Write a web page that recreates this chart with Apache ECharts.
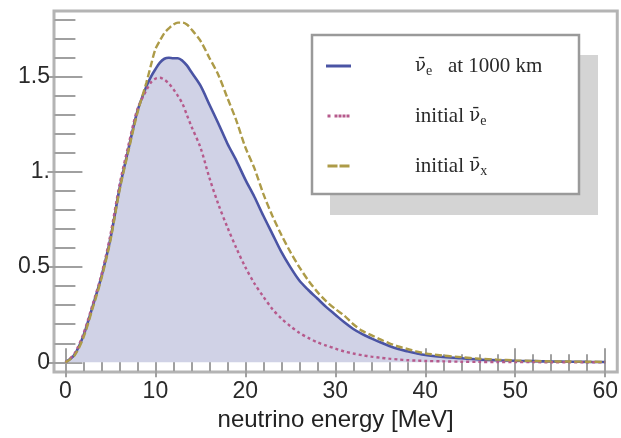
<!DOCTYPE html>
<html>
<head>
<meta charset="utf-8">
<script src="https://cdn.jsdelivr.net/npm/echarts@6/dist/echarts.min.js"></script>
<style>
  html, body { margin: 0; padding: 0; background: #fff; }
  #chart { width: 621px; height: 438px; }
</style>
</head>
<body>
<div id="chart"></div>
<script>
// Neutrino energy spectra (MeV)
const energy = [0, 1, 2, 3, 4, 5, 6, 7, 8, 9,
  9.5, 10, 10.5, 11, 11.5, 12, 12.5, 13, 13.5,
  14, 15, 16, 17, 18, 19, 20, 21, 22, 23, 24, 25, 26, 27, 28, 29, 30,
  31, 32, 33, 34, 35, 36, 37, 38, 39, 40,
  42, 44, 46, 48, 50, 52, 54, 56, 58, 60];

// anti-nu_e spectrum after 1000 km
const atDistance = [0, 0.04, 0.14, 0.29, 0.45, 0.65, 0.91, 1.12, 1.32, 1.45,
  1.50, 1.54, 1.575, 1.595, 1.60, 1.598, 1.598, 1.585, 1.56,
  1.525, 1.455, 1.355, 1.255, 1.15, 1.06, 0.96, 0.87, 0.77, 0.675, 0.58, 0.50, 0.43, 0.38, 0.335, 0.29, 0.25,
  0.21, 0.175, 0.148, 0.126, 0.105, 0.086, 0.07, 0.058, 0.047, 0.038,
  0.028, 0.021, 0.015, 0.011, 0.008, 0.006, 0.004, 0.003, 0.002, 0.0015];

// initial anti-nu_e spectrum
const initialE = [0, 0.045, 0.15, 0.30, 0.46, 0.67, 0.93, 1.14, 1.33, 1.43,
  1.47, 1.49, 1.495, 1.485, 1.465, 1.435, 1.40, 1.36, 1.30,
  1.24, 1.13, 0.97, 0.83, 0.71, 0.60, 0.50, 0.415, 0.345, 0.28, 0.23, 0.19, 0.155, 0.128, 0.105, 0.088, 0.072,
  0.057, 0.046, 0.037, 0.030, 0.024, 0.019, 0.015, 0.011, 0.009, 0.007,
  0.005, 0.003, 0.002, 0.0015, 0.001, 0.0007, 0.0005, 0.0003, 0.0002, 0.0001];

// initial anti-nu_x spectrum
const initialX = [0, 0.035, 0.13, 0.28, 0.44, 0.64, 0.90, 1.11, 1.31, 1.47,
  1.56, 1.645, 1.69, 1.73, 1.755, 1.775, 1.785, 1.785, 1.775,
  1.75, 1.69, 1.60, 1.51, 1.39, 1.27, 1.13, 1.02, 0.885, 0.77, 0.67, 0.58, 0.50, 0.43, 0.37, 0.32, 0.28,
  0.245, 0.20, 0.165, 0.143, 0.12, 0.10, 0.083, 0.07, 0.057, 0.047,
  0.035, 0.027, 0.019, 0.014, 0.010, 0.007, 0.005, 0.004, 0.003, 0.002];

const xMajor = [0, 10, 20, 30, 40, 50, 60];
const xMinor = [2, 4, 6, 8, 12, 14, 16, 18, 22, 24, 26, 28, 32, 34, 36, 38, 42, 44, 46, 48, 52, 54, 56, 58];
const yMajor = [0, 0.5, 1, 1.5];
const yMinor = [0.1, 0.2, 0.3, 0.4, 0.6, 0.7, 0.8, 0.9, 1.1, 1.2, 1.3, 1.4, 1.6, 1.7, 1.8];

const legendNames = ['atDistance', 'initialE', 'initialX'];
const legendText = {
  atDistance: '{v|ν\u0304}{s|e}{n|   at 1000 km}',
  initialE: '{n|initial }{v|ν\u0304}{s|e}',
  initialX: '{n|initial }{v|ν\u0304}{s|x}'
};
// legend swatches: solid, dotted and dashed strokes
const legendIcons = {
  atDistance: 'path://M0,0H25V3H0Z',
  initialE: 'path://M0,0h3v3h-3zM7,0h3v3h-3zM11,0h3v3h-3zM15,0h3v3h-3zM19,0h3v3h-3z',
  initialX: 'path://M0,0h10v3h-10zM12,0h10v3h-10z'
};

const pairs = ys => energy.map((e, i) => [e, ys[i]]);

const X_MIN = -1.27, X_MAX = 61.34;
const Y_MIN = -0.051, Y_MAX = 1.846;
const tickColor = '#a0a0a0';
const labelFont = { fontFamily: 'Liberation Sans', fontSize: 23, color: '#2a2a2a' };

function xAxisDef(position, values, len, labels) {
  return {
    type: 'value', min: X_MIN, max: X_MAX, position: position,
    axisLine: { show: false }, splitLine: { show: false },
    axisTick: { show: true, inside: true, length: len, customValues: values,
      lineStyle: { color: tickColor, width: 2 } },
    axisLabel: labels ? Object.assign({ show: true, customValues: xMajor, margin: 8 }, labelFont)
                      : { show: false }
  };
}
function yAxisDef(position, values, len, labels) {
  return {
    type: 'value', min: Y_MIN, max: Y_MAX, position: position,
    axisLine: { show: false }, splitLine: { show: false },
    axisTick: { show: true, inside: true, length: len, customValues: values,
      lineStyle: { color: tickColor, width: 2 } },
    axisLabel: labels ? Object.assign({ show: true, customValues: yMajor, margin: 4,
                        formatter: v => (v === 1 ? '1.' : String(v)) }, labelFont)
                      : { show: false }
  };
}

const xAxes = [
  xAxisDef('bottom', xMajor, 14, true),
  xAxisDef('bottom', xMinor, 8, false),
  xAxisDef('top', xMajor, 15, false),
  xAxisDef('top', xMinor, 9, false)
];
Object.assign(xAxes[0], {
  name: 'neutrino energy [MeV]', nameLocation: 'middle', nameGap: 29,
  nameTextStyle: { fontFamily: 'Liberation Sans', fontSize: 24, color: '#222' }
});
const yAxes = [
  yAxisDef('left', yMajor, 17, true),
  yAxisDef('left', yMinor, 10, false),
  yAxisDef('right', yMajor, 18, false),
  yAxisDef('right', yMinor, 11, false)
];

const chart = echarts.init(document.getElementById('chart'), null, { renderer: 'canvas' });
chart.setOption({
  backgroundColor: '#ffffff',
  animation: false,
  grid: { left: 54, right: 1, top: 11, bottom: 66, show: true,
          borderColor: '#b4b4b4', borderWidth: 3, backgroundColor: 'transparent' },
  xAxis: xAxes,
  yAxis: yAxes,
  graphic: [
    { type: 'rect', z: 3, shape: { x: 330, y: 55, width: 268, height: 160 },
      style: { fill: '#d4d4d4' } },
    { type: 'rect', z: 3, shape: { x: 312, y: 35, width: 267, height: 159 },
      style: { fill: '#ffffff', stroke: '#9a9a9a', lineWidth: 2.5 } }
  ],
  legend: {
    data: legendNames.map(n => ({ name: n, icon: legendIcons[n] })),
    orient: 'vertical', left: 326, top: 54, z: 5,
    padding: 0, itemWidth: 25, itemHeight: 3, itemGap: 26,
    itemStyle: { borderWidth: 0 },
    lineStyle: { width: 0 },
    formatter: name => legendText[name],
    textStyle: {
      padding: [0, 0, 0, 59],
      lineHeight: 24,
      rich: {
        n: { fontFamily: 'Liberation Serif', fontSize: 21, color: '#2a2a2a', lineHeight: 24 },
        v: { fontFamily: 'DejaVu Serif', fontSize: 18, color: '#2a2a2a', lineHeight: 24 },
        s: { fontFamily: 'Liberation Serif', fontSize: 14, color: '#2a2a2a', lineHeight: 6, verticalAlign: 'bottom' }
      }
    }
  },
  series: [
    {
      name: 'atDistance', type: 'line', data: pairs(atDistance), smooth: 0.3,
      showSymbol: false, symbol: 'none', z: 2,
      lineStyle: { color: '#4a54a4', width: 2.6 },
      itemStyle: { color: '#4a54a4' },
      areaStyle: { color: '#d0d2e6', opacity: 1 }
    },
    {
      name: 'initialE', type: 'line', data: pairs(initialE), smooth: 0.3,
      showSymbol: false, symbol: 'none', z: 3,
      lineStyle: { color: '#b65a8c', width: 2.4, type: [3, 3] },
      itemStyle: { color: '#b65a8c' }
    },
    {
      name: 'initialX', type: 'line', data: pairs(initialX), smooth: 0.3,
      showSymbol: false, symbol: 'none', z: 3,
      lineStyle: { color: '#ad9b48', width: 2.4, type: [7, 3] },
      itemStyle: { color: '#ad9b48' }
    }
  ]
});
</script>
</body>
</html>
